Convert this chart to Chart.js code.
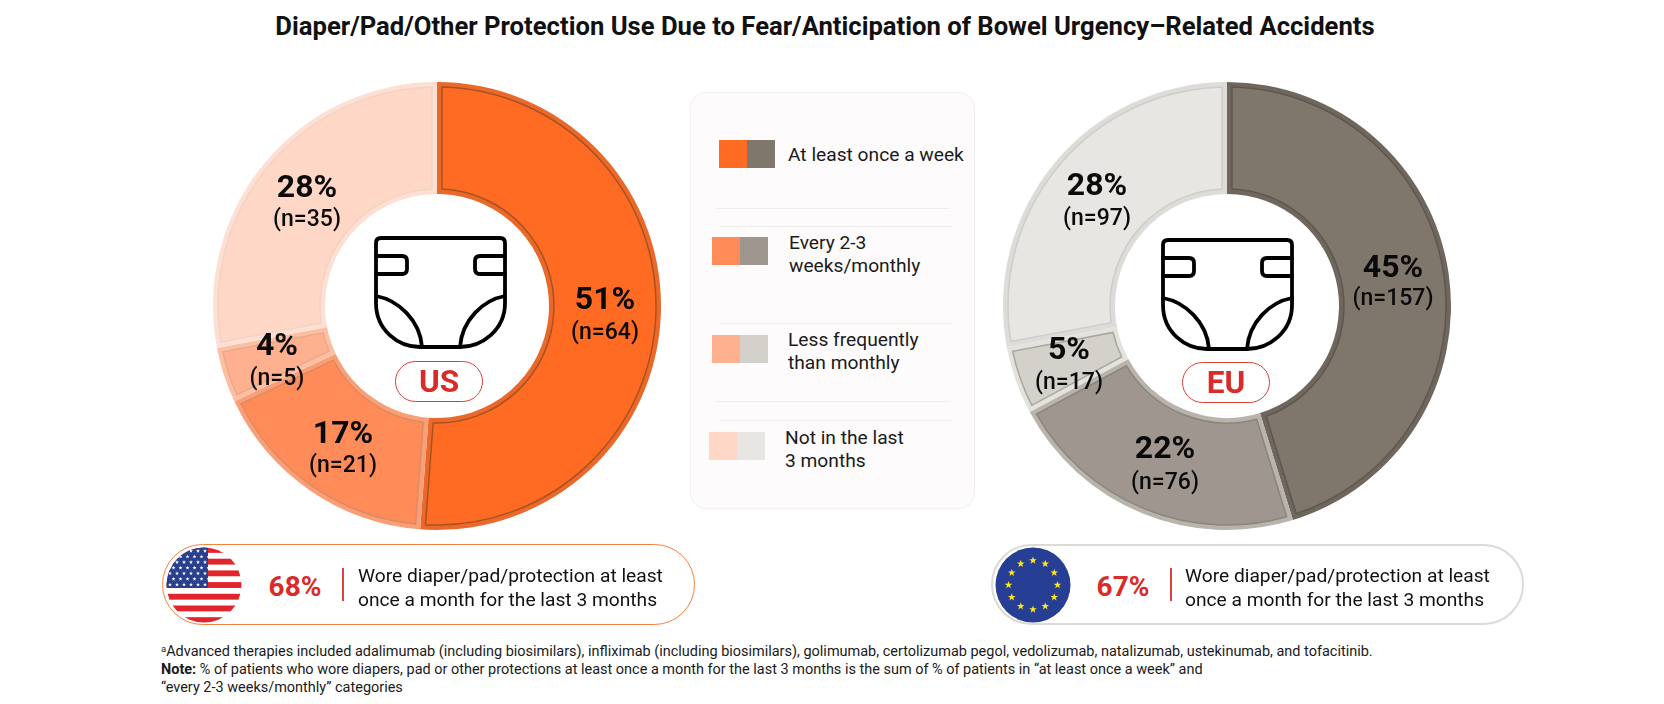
<!DOCTYPE html>
<html><head><meta charset="utf-8">
<script src="https://cdn.jsdelivr.net/npm/chart.js@4"></script>
<style>
html,body{margin:0;padding:0;background:#fff;width:1664px;height:704px;overflow:hidden;font-family:Roboto,sans-serif;color:#111}
#page{position:relative;width:1664px;height:704px}
canvas{position:absolute}
.t{position:absolute;white-space:nowrap}
.c{transform:translate(-50%,-50%);text-align:center}
.big{font-weight:700;font-size:32px;line-height:36px;color:#0a0a0a}
.n{font-weight:500;font-size:23px;line-height:26px;color:#0a0a0a}
.panel{position:absolute;left:690px;top:92px;width:283px;height:415px;border:1px solid #f1efef;border-radius:16px;background:#fdfbfb}
.rule{position:absolute;height:1px;background:#eeeced}
.sw{position:absolute;width:28px;height:28px}
.leg{position:absolute;font-size:19.2px;line-height:23px;white-space:nowrap;color:#1a1a1a}
.pill{position:absolute;box-sizing:border-box;background:#fff;border-radius:41px}
.tag{position:absolute;box-sizing:border-box;border:1.5px solid #d93f36;border-radius:21px;background:#fff;color:#d92b27;font-weight:700;font-size:31.5px;display:flex;align-items:center;justify-content:center}
.pct{position:absolute;color:#d92b27;font-weight:700;font-size:28px;transform:translate(-50%,-50%)}
.div{position:absolute;width:1.5px;height:33px;background:#d9453c}
.wore{position:absolute;font-size:19.2px;line-height:23.5px;white-space:nowrap;color:#111}
.foot{position:absolute;left:161px;font-size:14.47px;line-height:18px;white-space:nowrap;color:#1a1a1a}
svg{position:absolute;overflow:visible}
</style></head>
<body><div id="page">
<svg width="0" height="0"><defs>
<symbol id="diaper" viewBox="0 0 140 130" overflow="visible">
<g fill="none" stroke="#000" stroke-width="3.8" stroke-linejoin="round" stroke-linecap="round">
<path d="M11 13H130Q135 13 135 18V78C135 105 112 122 90 122H50C28 122 6 105 6 78V18Q6 13 11 13Z"/>
<path d="M6 31H32Q37 31 37 36V44Q37 49 32 49H6"/>
<path d="M135 31H110Q105 31 105 36V44Q105 49 110 49H135"/>
<path d="M6 71C28 75 50 95 52 122"/>
<path d="M135 71C113 75 92 95 90 122"/>
</g></symbol></defs></svg>

<div class="t c" style="left:825px;top:26px;font-weight:700;font-size:25.65px">Diaper/Pad/Other Protection Use Due to Fear/Anticipation of Bowel Urgency–Related Accidents</div>

<canvas id="usChart" width="460" height="460" style="left:207px;top:76px"></canvas>
<canvas id="euChart" width="460" height="460" style="left:997px;top:76px"></canvas>

<svg width="140" height="130" style="left:370px;top:225px"><use href="#diaper" width="140" height="130"/></svg>
<svg width="140" height="130" style="left:1157px;top:227px"><use href="#diaper" width="140" height="130"/></svg>
<div class="tag" style="left:395px;top:361px;width:88px;height:41px">US</div>
<div class="tag" style="left:1182px;top:362px;width:88px;height:41px">EU</div>
<div id="labels"></div>

<div class="panel"></div>
<div class="rule" style="left:716px;top:208px;width:233px"></div>
<div class="rule" style="left:719px;top:226px;width:234px"></div>
<div class="rule" style="left:719px;top:323px;width:234px"></div>
<div class="rule" style="left:716px;top:401px;width:233px"></div>
<div class="rule" style="left:719px;top:420px;width:234px"></div>
<div id="legend"></div>

<div class="pill" style="left:162px;top:544px;width:533px;height:81px;border:1.5px solid #f5813f"></div>
<div class="pill" style="left:991px;top:544px;width:533px;height:81px;border:2px solid #dcdad5"></div>
<svg id="flagUS" width="76" height="76" viewBox="0 0 76 76" style="left:166px;top:547px"></svg>
<svg id="flagEU" width="76" height="76" viewBox="0 0 76 76" style="left:995px;top:547px"></svg>
<div id="callouts"></div>

<div class="foot" style="top:643px"><sup style="font-size:9.5px;line-height:0;vertical-align:4px">a</sup>Advanced therapies included adalimumab (including biosimilars), infliximab (including biosimilars), golimumab, certolizumab pegol, vedolizumab, natalizumab, ustekinumab, and tofacitinib.</div>
<div class="foot" style="top:661px"><b>Note:</b> % of patients who wore diapers, pad or other protections at least once a month for the last 3 months is the sum of % of patients in “at least once a week” and</div>
<div class="foot" style="top:679px">“every 2-3 weeks/monthly” categories</div>
</div>
<script>
const categories = ["At least once a week", "Every 2-3 weeks/monthly", "Less frequently than monthly", "Not in the last 3 months"];
const legendLines = [["At least once a week"], ["Every 2-3", "weeks/monthly"], ["Less frequently", "than monthly"], ["Not in the last", "3 months"]];
const usCounts = [64, 21, 5, 35];
const euCounts = [157, 76, 17, 97];
const usPercents = [51, 17, 4, 28];
const euPercents = [45, 22, 5, 28];
const usColors = ["#FF6B22", "#FF8C58", "#FFB08E", "#FFD7C7"];
const euColors = ["#80776C", "#9F978F", "#D3D1CA", "#E8E6E2"];
const usBands = ["#E9682A", "#FA9F75", "#FDBFA2", "#FDE0D3"];
const euBands = ["#6F675D", "#B8B3AC", "#E4E2DD", "#DEDCD8"];
const usLines = ["#A9521F", "#DC8A63", "#E6AB8E", "#F2D3C4"];
const euLines = ["#5F574D", "#8C857C", "#A9A69E", "#CFCDC7"];
const usLabelAt = [[605,298,332],[343,432,465],[277,344,378],[307,186,219]];
const euLabelAt = [[1393,266,298],[1165,447,482],[1069,348,382],[1097,184,218]];
const insetPx = 5;

// Inset panel of every slice, traced from the arc elements the library laid out.
const insetPanels = {
  id: "insetPanels",
  afterDatasetsDraw(chart, args, opts) {
    const ctx = chart.ctx;
    chart.getDatasetMeta(0).data.forEach((arc, i) => {
      const { x, y, startAngle, endAngle, innerRadius, outerRadius } = arc;
      const ro = outerRadius - insetPx, ri = innerRadius + insetPx;
      ctx.beginPath();
      ctx.arc(x, y, ro, startAngle + insetPx / ro, endAngle - insetPx / ro);
      ctx.arc(x, y, ri, endAngle - insetPx / ri, startAngle + insetPx / ri, true);
      ctx.closePath();
      ctx.fillStyle = opts.fill[i];
      ctx.fill();
      ctx.lineWidth = 1.5;
      ctx.strokeStyle = opts.line[i];
      ctx.lineJoin = "miter";
      ctx.stroke();
    });
  }
};

function donut(id, values, band, fill, line) {
  return new Chart(document.getElementById(id), {
    type: "doughnut",
    data: { labels: categories, datasets: [{ data: values, backgroundColor: band, borderWidth: 0 }] },
    options: { responsive: false, animation: false, radius: 224, cutout: "50%", events: [],
      plugins: { legend: { display: false }, tooltip: { enabled: false }, insetPanels: { fill, line } } },
    plugins: [insetPanels]
  });
}
donut("usChart", usCounts, usBands, usColors, usLines);
donut("euChart", euCounts, euBands, euColors, euLines);

const labelsEl = document.getElementById("labels");
function addLabels(pcts, counts, at){
  pcts.forEach((p,i)=>{
    labelsEl.insertAdjacentHTML("beforeend",
      `<div class="t c big" style="left:${at[i][0]}px;top:${at[i][1]}px">${p}%</div>`+
      `<div class="t c n" style="left:${at[i][0]}px;top:${at[i][2]}px">(n=${counts[i]})</div>`);
  });
}
addLabels(usPercents, usCounts, usLabelAt);
addLabels(euPercents, euCounts, euLabelAt);

const legendAt = [[719,140,788,143],[712,237,789,231],[712,335,788,328],[709,432,785,426]];
const legendEl = document.getElementById("legend");
legendLines.forEach((ls,i)=>{
  const a = legendAt[i];
  legendEl.insertAdjacentHTML("beforeend",
    `<div class="sw" style="left:${a[0]}px;top:${a[1]}px;background:${usColors[i]}"></div>`+
    `<div class="sw" style="left:${a[0]+28}px;top:${a[1]}px;background:${euColors[i]}"></div>`+
    `<div class="leg" style="left:${a[2]}px;top:${a[3]}px">${ls.join("<br>")}</div>`);
});

const calloutText = "Wore diaper/pad/protection at least<br>once a month for the last 3 months";
document.getElementById("callouts").innerHTML =
  `<div class="pct" style="left:295px;top:586px">68%</div><div class="div" style="left:342px;top:568px"></div><div class="wore" style="left:358px;top:564px">${calloutText}</div>`+
  `<div class="pct" style="left:1123px;top:586px">67%</div><div class="div" style="left:1170px;top:568px"></div><div class="wore" style="left:1185px;top:564px">${calloutText}</div>`;

function star(cx,cy,r,fill){
  let p=[];
  for(let k=0;k<10;k++){const a=-Math.PI/2+k*Math.PI/5,q=k%2?r*0.4:r;p.push((cx+q*Math.cos(a)).toFixed(2)+","+(cy+q*Math.sin(a)).toFixed(2));}
  return `<polygon points="${p.join(" ")}" fill="${fill}"/>`;
}
let us=`<clipPath id="cu"><circle cx="38" cy="38" r="37.5"/></clipPath><g clip-path="url(#cu)"><rect width="76" height="76" fill="#fff"/>`;
for(let s=0;s<13;s+=2) us+=`<rect x="0" y="${s*5.85}" width="76" height="5.85" fill="#E1252C"/>`;
us+=`<rect x="0" y="0" width="42" height="41" fill="#2A3F8E"/>`;
for(let r=0;r<7;r++){for(let c=0;c<6;c++){us+=star(4+c*7+(r%2?3.5:0),4+r*5.6,2.1,"#fff");}}
us+=`</g>`;
document.getElementById("flagUS").innerHTML=us;
let eu=`<circle cx="38" cy="38" r="37.5" fill="#263F94"/>`;
for(let k=0;k<12;k++){const a=k*Math.PI/6;eu+=star(38+24.5*Math.cos(a),38+24.5*Math.sin(a),4,"#FFE81C");}
document.getElementById("flagEU").innerHTML=eu;
</script>
</body></html>
